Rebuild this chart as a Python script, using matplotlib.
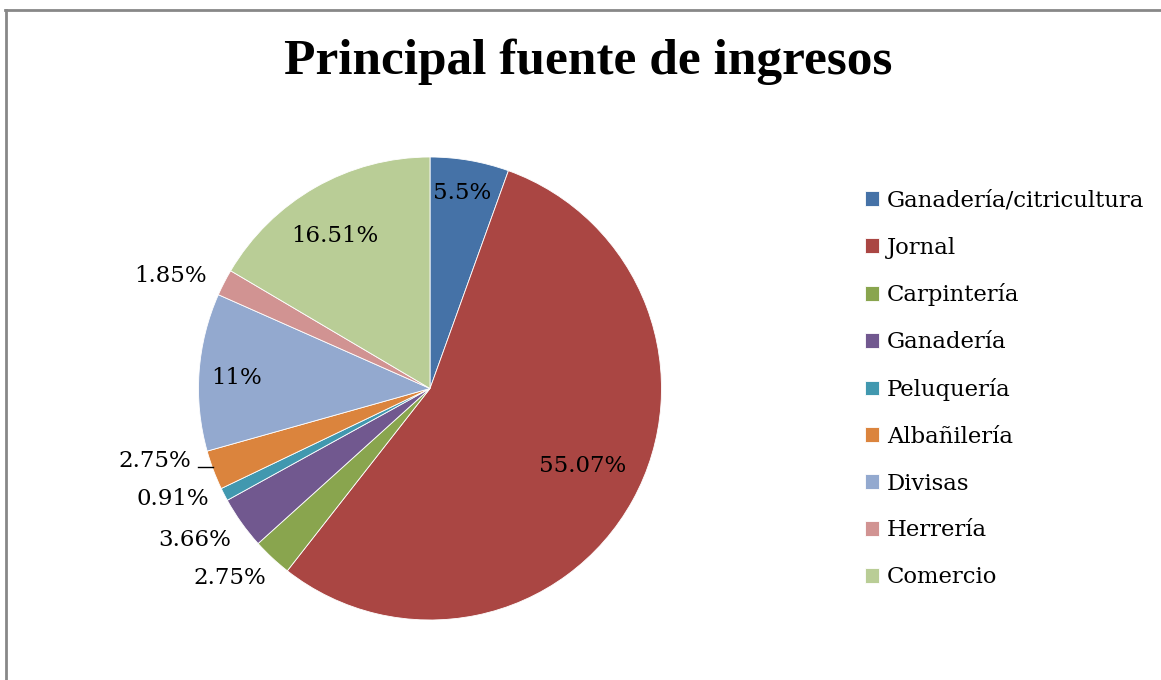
import numpy as np
import matplotlib.pyplot as plt
from matplotlib.lines import Line2D

# Data
categories = ['Ganadería/citricultura', 'Jornal', 'Carpintería', 'Ganadería',
              'Peluquería', 'Albañilería', 'Divisas', 'Herrería', 'Comercio']
percentages = [5.5, 55.07, 2.75, 3.66, 0.91, 2.75, 11, 1.85, 16.51]
pct_labels = ['5.5%', '55.07%', '2.75%', '3.66%', '0.91%', '2.75%', '11%', '1.85%', '16.51%']
colors = ['#4572A7', '#AA4643', '#89A54E', '#71588F', '#4198AF',
          '#DB843D', '#93A9CF', '#D19392', '#B9CD96']

# label placement (radius factor, angle nudge in degrees)
label_r = [0.855, 0.74, 1.19, 1.21, 1.21, 1.23, 0.835, 1.22, 0.776]
label_dt = [0.6, 2.0, -3.5, -2.7, -4.0, -5.8, 1.0, 3.8, 2.2]

plt.rcParams['font.family'] = 'DejaVu Serif'

W, H = 1161, 680
fig = plt.figure(figsize=(W / 100, H / 100), dpi=100)

# pie: center (430, 388.5) px, radius 231.5 px
cx, cy, rad = 430, 388.5, 231.5
ax = fig.add_axes([(cx - rad) / W, (H - cy - rad) / H, 2 * rad / W, 2 * rad / H])
wedges, _ = ax.pie(percentages, colors=colors, startangle=90, counterclock=False,
                   radius=1, wedgeprops=dict(edgecolor='white', linewidth=0.6))
ax.set_xlim(-1, 1)
ax.set_ylim(-1, 1)
ax.set_aspect('equal')
ax.axis('off')

for i, w in enumerate(wedges):
    mid = (w.theta1 + w.theta2) / 2
    ang = np.deg2rad(mid + label_dt[i])
    x, y = label_r[i] * np.cos(ang), label_r[i] * np.sin(ang)
    ax.text(x, y, pct_labels[i], ha='center', va='center', fontsize=16.5,
            clip_on=False)
    if i == 5:
        # short leader line for the small Albañilería label
        a = np.deg2rad(mid)
        ex, ey = np.cos(a), np.sin(a)
        ax.add_line(Line2D([ex - 0.065, ex], [ey + 0.012, ey + 0.012], color='black',
                           lw=1, clip_on=False))

fig.text(588 / W, 1 - 62 / H, 'Principal fuente de ingresos', ha='center', va='center',
         fontsize=37, fontweight='bold', family='Liberation Serif')

fig.legend(wedges, categories, loc='center left', bbox_to_anchor=(865 / W, 1 - 389 / H),
           frameon=False, fontsize=16.4, handlelength=0.62, handleheight=0.62,
           handletextpad=0.33, labelspacing=1.09, borderpad=0, borderaxespad=0)

# chart border (top and left visible)
fig.add_artist(Line2D([6 / W, 6 / W], [0, 1 - 9.5 / H], color='#888888', lw=2,
                      transform=fig.transFigure))
fig.add_artist(Line2D([5 / W, 1], [1 - 9.5 / H, 1 - 9.5 / H], color='#888888', lw=2,
                      transform=fig.transFigure))

fig.savefig('out.png', dpi=100)
